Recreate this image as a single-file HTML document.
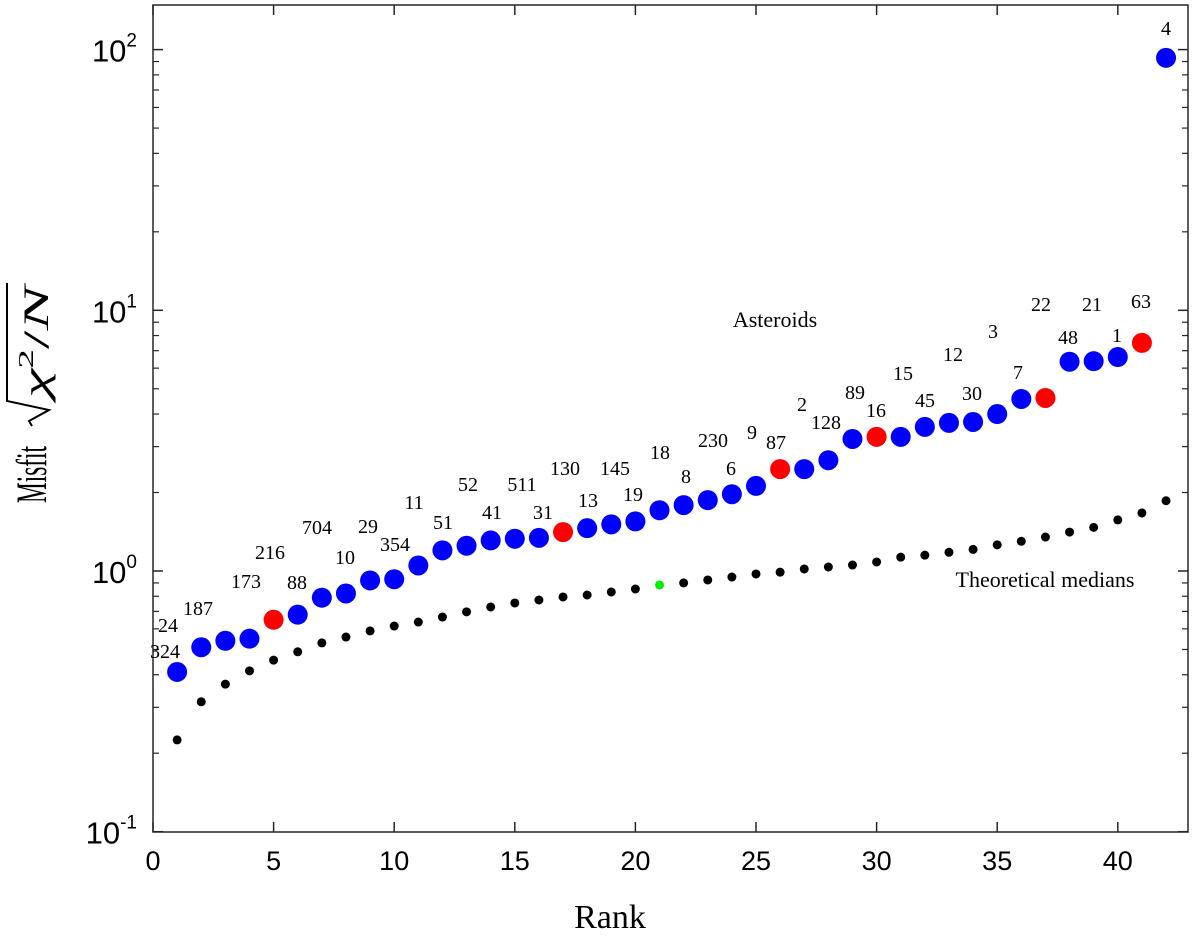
<!DOCTYPE html>
<html><head><meta charset="utf-8"><style>
body{margin:0;background:#fff}
svg text{font-family:"Liberation Serif",serif}
</style></head><body>
<svg id="chart" width="1200" height="943" xmlns="http://www.w3.org/2000/svg">
<g id="axes"></g><g id="marks"></g><g id="labels"></g>
<text x="775" y="327" font-size="22" text-anchor="middle">Asteroids</text>
<text x="1045" y="587" font-size="22" text-anchor="middle">Theoretical medians</text>
<text x="610" y="928" font-size="34" text-anchor="middle">Rank</text>
<g transform="translate(46,0) rotate(-90)">
<text transform="scale(1,1.8)" x="-503" y="0" font-size="24" textLength="57" lengthAdjust="spacingAndGlyphs">Misfit</text>
<text x="-398" y="2" font-size="36" font-style="italic" textLength="112" lengthAdjust="spacingAndGlyphs">χ<tspan font-size="21" dy="-15" font-style="normal">2</tspan><tspan dy="15" font-style="normal">/</tspan>N</text>
<path d="M-426,-14 L-421,-17 L-410,3 L-401,-39 L-283,-39" fill="none" stroke="#000" stroke-width="2"/>
</g>
</svg>
<script>
const ranks=[1,2,3,4,5,6,7,8,9,10,11,12,13,14,15,16,17,18,19,20,21,22,23,24,25,26,27,28,29,30,31,32,33,34,35,36,37,38,39,40,41,42];
const misfit=[0.41,0.51,0.54,0.55,0.65,0.68,0.79,0.82,0.92,0.93,1.05,1.20,1.25,1.31,1.33,1.34,1.41,1.46,1.51,1.55,1.71,1.79,1.87,1.97,2.12,2.46,2.46,2.66,3.21,3.27,3.27,3.57,3.70,3.73,4.00,4.57,4.61,6.35,6.38,6.62,7.5,93];
const isRed=[0,0,0,0,1,0,0,0,0,0,0,0,0,0,0,0,1,0,0,0,0,0,0,0,0,1,0,0,0,1,0,0,0,0,0,0,1,0,0,0,1,0];
const medians=[0.225,0.315,0.368,0.414,0.455,0.49,0.53,0.558,0.589,0.615,0.637,0.666,0.697,0.728,0.754,0.774,0.795,0.809,0.831,0.853,0.884,0.9,0.924,0.948,0.974,0.99,1.018,1.036,1.054,1.083,1.13,1.15,1.18,1.21,1.26,1.30,1.35,1.41,1.47,1.57,1.67,1.86];
const xTicks=[0,5,10,15,20,25,30,35,40];
const yDecades=[-1,0,1,2];
const ids=[324,24,187,173,216,88,704,10,29,354,11,51,52,41,511,31,130,13,145,19,18,8,230,9,6,87,2,128,89,16,15,45,12,30,3,7,22,48,21,1,63,4];
const idPos=[[165,651],[168,625],[198,608],[246,581],[270,552],[297,582],[317,527],[345,557],[368,526],[395,544],[414,502],[443,522],[468,484],[492,512],[522,484],[543,512],[565,468],[588,500],[615,468],[633,494],[660,452],[686,476],[713,440],[752,432],[731,468],[776,442],[802,404],[826,422],[855,392],[876,410],[903,373],[925,400],[953,354],[972,393],[993,331],[1018,372],[1041,304],[1068,337],[1092,304],[1117,335],[1141,301],[1166,28]];
const L=153,T=5,R=1188,B=832;
const X=v=>L+v*24.12;
const Y=v=>571-Math.log10(v)*260.7;
const NS="http://www.w3.org/2000/svg";
function mk(t,a,p){const e=document.createElementNS(NS,t);for(const k in a)e.setAttribute(k,a[k]);p.appendChild(e);return e;}
const ax=document.getElementById('axes'),mg=document.getElementById('marks'),lg=document.getElementById('labels');
const box=mk('rect',{x:L,y:T,width:R-L,height:B-T,fill:'none',stroke:'#262626','stroke-width':1.5},ax);


xTicks.forEach(t=>{const x=X(t);
mk('line',{x1:x,x2:x,y1:B,y2:B-10,stroke:'#262626','stroke-width':1.5},ax);
mk('line',{x1:x,x2:x,y1:T,y2:T+10,stroke:'#262626','stroke-width':1.5},ax);
const tx=mk('text',{x:x,y:870,'font-size':27,'text-anchor':'middle',style:'font-family:"Liberation Sans",sans-serif'},ax);
tx.textContent=t;

});
yDecades.forEach(d=>{const y=Y(Math.pow(10,d));
mk('line',{x1:L,x2:L+10,y1:y,y2:y,stroke:'#262626','stroke-width':1.5},ax);
mk('line',{x1:R,x2:R-10,y1:y,y2:y,stroke:'#262626','stroke-width':1.5},ax);
const tx=mk('text',{x:137,y:y+12,'font-size':31,'text-anchor':'end',style:'font-family:"Liberation Sans",sans-serif'},ax);
tx.innerHTML='10<tspan font-size="19" dy="-15">'+d+'</tspan>';


if(d<2)for(let m=2;m<10;m++){const yy=Y(m*Math.pow(10,d));if(yy<T)continue;
mk('line',{x1:L,x2:L+6,y1:yy,y2:yy,stroke:'#262626','stroke-width':1.2},ax);
mk('line',{x1:R,x2:R-6,y1:yy,y2:yy,stroke:'#262626','stroke-width':1.2},ax);}});
ranks.forEach((r,i)=>{
const d=mk('circle',{cx:X(r),cy:Y(medians[i]),r:4.5,fill:r===21?'#00ee00':'#000'},mg);


const c=mk('circle',{cx:X(r),cy:Y(misfit[i]),r:10,fill:isRed[i]?'#ff0000':'#0000ff'},mg);


const t=mk('text',{x:idPos[i][0],y:idPos[i][1]+7,'font-size':20,'text-anchor':'middle'},lg);
t.textContent=ids[i];

});
</script>
</body></html>
